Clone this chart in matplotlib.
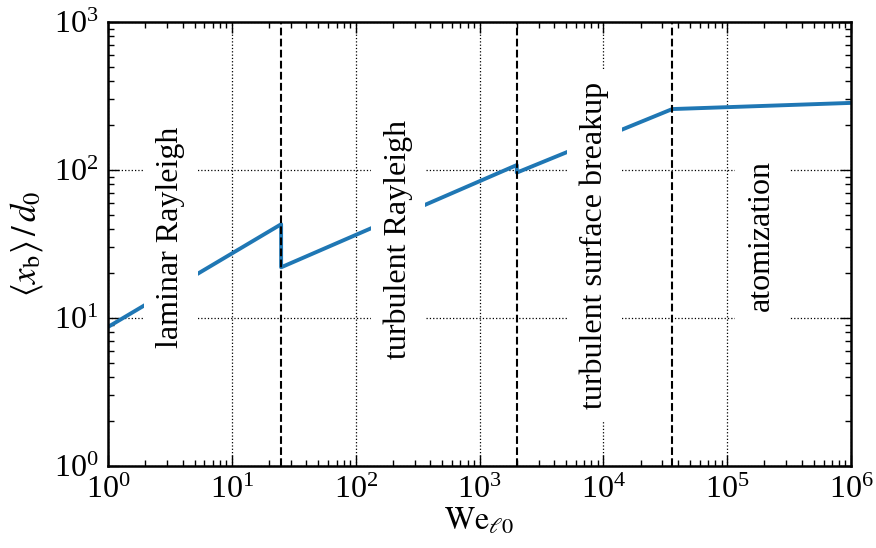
import matplotlib
matplotlib.use("Agg")
import matplotlib.pyplot as plt

plt.rcParams['font.family'] = ['Liberation Serif', 'DejaVu Serif']
plt.rcParams['mathtext.fontset'] = 'stix'
plt.rcParams['font.size'] = 23

# breakup length vs liquid Weber number, piecewise by regime
we = [1, 25, 25, 2000, 2000, 36000, 1e6]
xb = [8.7, 43, 22, 108, 96, 258, 284]

# regime boundaries
bounds = [25, 2000, 36000]

regimes = ["laminar Rayleigh", "turbulent Rayleigh",
           "turbulent surface breakup", "atomization"]
label_x = [3.2, 220, 8500, 190000]
label_y = [35, 34, 31, 36]

fig = plt.figure(figsize=(8.76, 5.48), dpi=100)
ax = fig.add_axes([0.1233, 0.1496, 0.8482, 0.8103])

ax.loglog(we, xb, color="#1f77b4", linewidth=2.8)
for b in bounds:
    ax.axvline(b, color='black', linestyle='dashed', linewidth=1.5)

for name, tx, ty in zip(regimes, label_x, label_y):
    ax.text(tx, ty, name, rotation=90, ha='center', va='center',
            bbox=dict(facecolor='white', edgecolor='none', pad=9))

ax.set_xlim(1, 1e6)
ax.set_ylim(1, 1e3)
ax.grid(True, which='major', color='black', linestyle=':', linewidth=0.9)
ax.tick_params(which='both', direction='in', top=True, right=True, width=1)
ax.tick_params(which='major', length=8, pad=7)
ax.tick_params(which='minor', length=4)
for s in ax.spines.values():
    s.set_linewidth(1.8)

ax.set_xlabel(r"$\mathrm{We}_{\ell 0}$", labelpad=1)
ax.set_ylabel(r"$\left\langle x_\mathrm{b} \right\rangle\,/\,d_0$",
              fontsize=25, labelpad=6)

fig.savefig("out.png", dpi=100)
